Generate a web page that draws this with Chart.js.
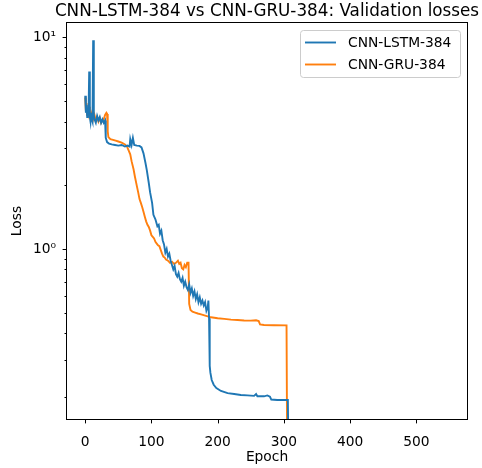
<!DOCTYPE html>
<html>
<head>
<meta charset="utf-8">
<script src="https://cdn.jsdelivr.net/npm/chart.js@4"></script>
<style>
  html, body { margin: 0; padding: 0; background: #fff; }
</style>
</head>
<body>
<canvas id="lossChart" width="482" height="468"></canvas>
<script>
const lstmEpochs = [0,1,2,3,4,5,6,7,8,9,10,11,12,13,14,16,18,20,22,24,26,28,30,31,33,36,40,45,50,55,60,64,67,68,70,72,74,78,82,85,88,91,93,96,98,101,103,106,109,111,113,115,117,119,121,123,125,127,129,131,133,135,137,139,141,143,145,147,149,151,153,155,157,159,161,163,165,167,169,171,173,175,177,179,181,183,185,186,187,188,189,191,194,198,205,215,225,235,245,255,258,260,270,275,279,281,290,300,306,307];
const lstmLoss = [5.3,4.4,4.8,4.2,4.5,4.3,6.9,4.2,4.0,4.4,4.1,4.0,9.7,4.3,4.1,3.95,4.25,4.05,4.2,3.95,4.1,3.95,4.05,3.35,3.2,3.15,3.12,3.1,3.08,3.1,3.05,3.08,3.05,3.3,3.1,3.35,3.1,3.08,3.07,3.02,2.83,2.55,2.36,2.05,1.85,1.65,1.45,1.38,1.28,1.30,1.18,1.22,1.10,1.05,0.96,1.0,0.92,0.95,0.88,0.84,0.80,0.83,0.76,0.74,0.77,0.72,0.70,0.73,0.67,0.70,0.66,0.64,0.68,0.62,0.65,0.60,0.63,0.58,0.61,0.56,0.59,0.55,0.57,0.54,0.56,0.51,0.53,0.57,0.47,0.28,0.26,0.24,0.228,0.22,0.213,0.208,0.206,0.204,0.203,0.202,0.206,0.201,0.201,0.203,0.200,0.194,0.193,0.193,0.193,0.1];

const gruEpochs = [0,1,2,3,4,5,6,7,8,10,12,14,16,18,20,22,24,26,28,30,32,33,34,35,38,42,46,50,55,60,63,66,68,70,73,75,78,80,82,84,86,88,90,92,94,96,98,100,102,104,106,108,110,112,114,116,118,120,122,125,128,131,134,137,140,142,144,146,148,150,152,154,156,157,159,162,166,170,175,180,190,200,210,220,230,240,250,258,262,264,270,285,304,305];
const gruLoss = [5.2,4.5,4.9,4.3,4.6,4.4,4.7,4.3,4.2,4.4,4.1,4.3,4.05,4.2,4.0,4.15,3.95,4.05,4.1,4.3,4.4,4.35,3.6,3.38,3.3,3.28,3.25,3.22,3.18,3.12,3.05,2.9,2.8,2.6,2.38,2.2,1.98,1.85,1.72,1.65,1.58,1.5,1.42,1.35,1.30,1.27,1.22,1.16,1.14,1.12,1.08,1.06,1.04,1.03,0.99,0.95,0.92,0.91,0.89,0.88,0.86,0.87,0.85,0.86,0.88,0.85,0.86,0.81,0.80,0.84,0.82,0.86,0.86,0.55,0.515,0.505,0.50,0.495,0.49,0.485,0.475,0.47,0.467,0.463,0.461,0.459,0.458,0.46,0.456,0.44,0.437,0.436,0.435,0.1];

const xTicks = [0, 100, 200, 300, 400, 500];
const yTicks = [0.2,0.3,0.4,0.5,0.6,0.7,0.8,0.9,1,2,3,4,5,6,7,8,9,10];
const yMajorTicks = [1, 10];
const yMajorLabels = ['10\u2070', '10\u00B9'];

const FONT = 'DejaVu Sans';
const FS = 13.8;

function toPoints(xs, ys) {
  return xs.map((x, i) => ({ x: x, y: ys[i] }));
}

// title, spines, tick marks and legend drawn by hand
const decor = {
  id: 'decor',
  afterDraw(chart) {
    const { ctx, chartArea: a, scales: { x, y } } = chart;
    ctx.save();
    ctx.strokeStyle = '#000';
    ctx.lineWidth = 1;
    ctx.beginPath();
    x.ticks.forEach(t => {
      const px = Math.round(x.getPixelForValue(t.value)) + 0.5;
      ctx.moveTo(px, a.bottom);
      ctx.lineTo(px, a.bottom + 4.4);
    });
    y.ticks.forEach(t => {
      const py = Math.round(y.getPixelForValue(t.value)) + 0.5;
      const len = yMajorTicks.includes(t.value) ? 4.4 : 2.5;
      ctx.moveTo(a.left - len, py);
      ctx.lineTo(a.left, py);
    });
    ctx.stroke();
    ctx.strokeRect(Math.round(a.left) - 0.5, Math.round(a.top) - 0.5,
      Math.round(a.right - a.left) + 1, Math.round(a.bottom - a.top) + 1);

    ctx.fillStyle = '#000';
    ctx.font = '16.8px "' + FONT + '"';
    ctx.textAlign = 'center';
    ctx.textBaseline = 'alphabetic';
    ctx.fillText('CNN-LSTM-384 vs CNN-GRU-384: Validation losses', (a.left + a.right) / 2, 15.5);

    // legend
    const lx = 300.5, ly = 30.5, lw = 160, lh = 47;
    ctx.beginPath();
    ctx.roundRect(lx, ly, lw, lh, 3);
    ctx.fillStyle = 'rgba(255,255,255,0.8)';
    ctx.fill();
    ctx.strokeStyle = '#cccccc';
    ctx.stroke();
    ctx.font = FS + 'px "' + FONT + '"';
    ctx.textAlign = 'left';
    ctx.textBaseline = 'middle';
    chart.data.datasets.forEach((ds, i) => {
      const ry = 42.5 + i * 22;
      ctx.strokeStyle = ds.borderColor;
      ctx.lineWidth = 1.9;
      ctx.beginPath();
      ctx.moveTo(305, ry);
      ctx.lineTo(336, ry);
      ctx.stroke();
      ctx.fillStyle = '#000';
      ctx.fillText(ds.label, 348, ry + 0.5);
    });
    ctx.restore();
  }
};

new Chart(document.getElementById('lossChart'), {
  type: 'line',
  data: {
    datasets: [
      { label: 'CNN-LSTM-384', data: toPoints(lstmEpochs, lstmLoss), borderColor: '#1f77b4' },
      { label: 'CNN-GRU-384', data: toPoints(gruEpochs, gruLoss), borderColor: '#ff7f0e' }
    ]
  },
  options: {
    responsive: false,
    animation: false,
    layout: { padding: { top: 23, right: 15, left: 0, bottom: 0 } },
    elements: {
      line: { borderWidth: 1.9, tension: 0 },
      point: { radius: 0 }
    },
    plugins: {
      legend: { display: false },
      title: { display: false },
      tooltip: { enabled: false }
    },
    scales: {
      x: {
        type: 'linear',
        min: -27.5,
        max: 576.5,
        afterBuildTicks: s => { s.ticks = xTicks.map(v => ({ value: v })); },
        afterFit: s => { s.height = 49; },
        grid: { display: false },
        border: { display: false },
        ticks: { color: '#000', padding: 7, font: { family: FONT, size: FS }, maxRotation: 0 },
        title: { display: true, text: 'Epoch', color: '#000', font: { family: FONT, size: FS }, padding: { bottom: 2.7, top: 0 } }
      },
      y: {
        type: 'logarithmic',
        min: 0.157,
        max: 11.7,
        afterBuildTicks: s => { s.ticks = yTicks.map(v => ({ value: v })); },
        afterFit: s => { s.width = 67; },
        grid: { display: false },
        border: { display: false },
        ticks: {
          color: '#000',
          padding: 3,
          autoSkip: false,
          font: { family: FONT, size: FS },
          callback: v => {
            const k = yMajorTicks.indexOf(v);
            return k >= 0 ? yMajorLabels[k] : '';
          }
        },
        title: { display: true, text: 'Loss', color: '#000', font: { family: FONT, size: FS }, padding: { top: 8.7, bottom: 0 } }
      }
    }
  },
  plugins: [decor]
});
</script>
</body>
</html>
